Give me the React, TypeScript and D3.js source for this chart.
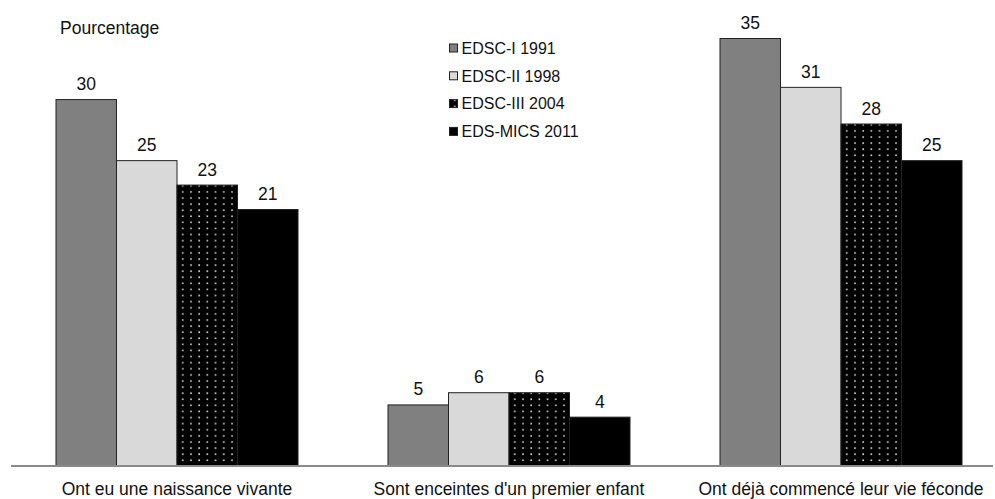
import React from "react";
import * as d3 from "d3";

const categories = [
  "Ont eu une naissance vivante",
  "Sont enceintes d'un premier enfant",
  "Ont déjà commencé leur vie féconde",
];
const seriesNames = ["EDSC-I 1991", "EDSC-II 1998", "EDSC-III 2004", "EDS-MICS 2011"];
const edsc1991 = [30, 5, 35];
const edsc1998 = [25, 6, 31];
const edsc2004 = [23, 6, 28];
const edsmics2011 = [21, 4, 25];
const seriesValues = [edsc1991, edsc1998, edsc2004, edsmics2011];

const W = 995;
const H = 499;
const FONT = "'Liberation Sans', Arial, sans-serif";
const fills = ["#808080", "#d9d9d9", "url(#dots)", "#000000"];

export default function App() {
  const baseline = 466;
  const x0 = d3.scaleBand<string>().domain(categories).range([11, 1007]).paddingInner(0).paddingOuter(0);
  const groupW = 242;
  const x1 = d3
    .scaleBand<string>()
    .domain(seriesNames)
    .range([0, groupW])
    .padding(0);
  const y = d3.scaleLinear().domain([0, 35]).range([baseline, 38.5]);

  return (
    <svg
      width={W}
      height={H}
      style={{ position: "absolute", left: 0, top: 0, background: "#fff" }}
      fontFamily={FONT}
    >
      <defs>
        <pattern id="dots" width={8.2} height={6.1} patternUnits="userSpaceOnUse">
          <rect width={8.2} height={6.1} fill="#000" />
          <rect x={3} y={2} width={1.6} height={1.6} fill="#d8d8d8" />
        </pattern>
      </defs>

      <text x={60} y={34} fontSize={17.5} fill="#111">
        Pourcentage
      </text>

      {categories.map((cat, ci) => {
        const gx = (x0(cat) as number) + x0.bandwidth() / 2 - groupW / 2;
        return (
          <g key={cat} transform={`translate(${gx},0)`}>
            {seriesNames.map((s, si) => {
              const v = seriesValues[si][ci];
              const bx = x1(s) as number;
              const bw = x1.bandwidth();
              return (
                <g key={s}>
                  <rect
                    x={bx}
                    y={y(v)}
                    width={bw}
                    height={baseline - y(v)}
                    fill={fills[si]}
                    stroke="#222"
                    strokeWidth={1}
                  />
                  <text
                    x={bx + bw / 2}
                    y={y(v) - 9.5}
                    textAnchor="middle"
                    fontSize={17.5}
                    fill="#111"
                  >
                    {v}
                  </text>
                </g>
              );
            })}
          </g>
        );
      })}

      <line x1={11} x2={993} y1={baseline} y2={baseline} stroke="#8a8a8a" strokeWidth={2} />

      {categories.map((cat) => (
        <text
          key={cat}
          x={(x0(cat) as number) + x0.bandwidth() / 2}
          y={495}
          textAnchor="middle"
          fontSize={17.5}
          fill="#111"
        >
          {cat}
        </text>
      ))}

      {seriesNames.map((s, si) => {
        const cy = 48 + si * 27.8;
        return (
          <g key={s}>
            <rect
              x={449.5}
              y={cy - 4}
              width={8}
              height={8}
              fill={fills[si]}
              stroke="#222"
              strokeWidth={1}
            />
            <text x={461.5} y={cy + 5.8} fontSize={16} fill="#111">
              {s}
            </text>
          </g>
        );
      })}
    </svg>
  );
}
